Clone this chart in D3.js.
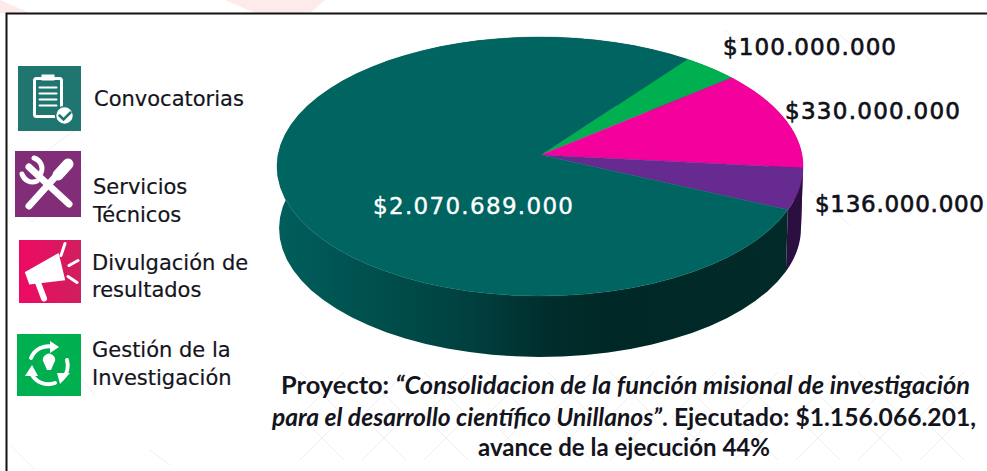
<!DOCTYPE html>
<html><head><meta charset="utf-8">
<script src="https://cdn.jsdelivr.net/npm/d3@7"></script>
<style>html,body{margin:0;padding:0;background:#fff}svg{display:block}text{font-family:"DejaVu Sans",sans-serif;fill:#14141c}</style>
</head><body><div id="chart"></div>
<script>
const categories = ["Gestión de la Investigación","Divulgación de resultados","Servicios Técnicos","Convocatorias"];
const values = [100000000,330000000,136000000,2070689000];
const valueLabels = ["$100.000.000","$330.000.000","$136.000.000","$2.070.689.000"];
const topColors = ["#00b050","#f4009c","#662a91","#006461"];
const sideColors = ["#005a2c","#7a004e","#2a0f40","url(#sideGrad)"];

const W=987,H=471;
const svg=d3.select("#chart").append("svg").attr("width",W).attr("height",H);
const defs=svg.append("defs");
const g=defs.append("linearGradient").attr("id","sideGrad").attr("gradientUnits","userSpaceOnUse")
  .attr("x1",278).attr("x2",803).attr("y1",0).attr("y2",0);
[[0,"#005e5b"],[.2,"#004e4c"],[.38,"#003f3e"],[.5,"#002f2e"],[.62,"#002826"],[1,"#012a28"]]
  .forEach(s=>g.append("stop").attr("offset",s[0]).attr("stop-color",s[1]));
const mg=defs.append("linearGradient").attr("id","magGrad");
mg.append("stop").attr("offset",0).attr("stop-color","#ee0a62");
mg.append("stop").attr("offset",1).attr("stop-color","#cf1f5f");

// faint watermark behind everything
const wm=svg.append("g");
[[[0,0],[30,13],[0,13]],[[225,0],[325,0],[310,13],[255,13]]].forEach(p=>
  wm.append("polygon").attr("points",p.join(" ")).attr("fill","#fdeaea"));
const lat=wm.append("g").attr("stroke","#efefef").attr("stroke-width",1).attr("fill","none");
d3.range(300,960,62).forEach(x=>{
  lat.append("path").attr("d",`M${x},372 L${x+44},416 L${x},460`);
  lat.append("path").attr("d",`M${x+44},372 L${x},416 L${x+44},460`);
});
[[20,170,75,130],[15,205,32,222],[85,165,32,222],[40,330,95,395],[10,445,35,470],[150,450,170,465],[725,30,760,60],[840,35,870,60],[905,125,935,95],[810,190,850,225]]
  .forEach(l=>lat.append("line").attr("x1",l[0]).attr("y1",l[1]).attr("x2",l[2]).attr("y2",l[3]));

// frame
svg.append("path").attr("d",`M6.5,${H} V13.5 H${W}`).attr("fill","none").attr("stroke","#111").attr("stroke-width",2);

// perspective pie
const cx=540,R=262,apexY=155,Hy=128.5,k=0.0888,depth=63,bottomScale=.992;
const project=(a,y0,s)=>{
  const u=Math.sin(a),v=Math.cos(a),d=1+k*v;
  return [cx+R*s*u/d,y0-Hy*s*v/d];
};
const startA=37*Math.PI/180;
const pie=d3.pie().sort(null).startAngle(startA).endAngle(startA+2*Math.PI);
const arcs=pie(values);
const line=d3.line();
const samples=(a0,a1)=>d3.range(0,61).map(i=>a0+(a1-a0)*i/60);

const chart=svg.append("g");
arcs.forEach((d,i)=>{
  const as=samples(d.startAngle,d.endAngle);
  const pts=as.map(a=>project(a,apexY,1)).concat(as.slice().reverse().map(a=>project(a,apexY+depth-1,bottomScale)));
  chart.append("path").attr("d",line(pts)+"Z").attr("fill",sideColors[i]);
});
arcs.forEach((d,i)=>{
  const pts=[[cx+1,apexY]].concat(samples(d.startAngle,d.endAngle).map(a=>project(a,apexY,1)));
  chart.append("path").attr("d",line(pts)+"Z").attr("fill",topColors[i]).attr("stroke",topColors[i]).attr("stroke-width",.4);
});

// value labels
const labelAt=[[723,55],[785,119],[815,212],[373,214]];
const labelLen=[173,175,169,200];
valueLabels.forEach((t,i)=>{
  svg.append("text").attr("x",labelAt[i][0]).attr("y",labelAt[i][1]).text(t)
    .attr("font-size",23).attr("textLength",labelLen[i]).attr("lengthAdjust","spacing")
    .style("fill",i===3?"#fff":"#101018").style("stroke",i===3?"#fff":"#101018").style("stroke-width",i===3?.4:.65);
});

// legend
const legendRows=[
 {box:[18,66,63,65],c:"#1f7670",icon:"clip",text:["Convocatorias"],tx:94,ty:[106]},
 {box:[15,151,66,66],c:"#812d78",icon:"tools",text:["Servicios","Técnicos"],tx:93,ty:[194,222]},
 {box:[19,240,62,63],c:"url(#magGrad)",icon:"mega",text:["Divulgación de","resultados"],tx:92,ty:[270,297]},
 {box:[17,334,64,62],c:"#00b050",icon:"cycle",text:["Gestión de la","Investigación"],tx:92,ty:[357,385]}
];
const leg=svg.append("g");
legendRows.forEach(r=>{
  const [x,y,w,h]=r.box;
  leg.append("rect").attr("x",x).attr("y",y).attr("width",w).attr("height",h).attr("fill",r.c);
  const ic=leg.append("g").attr("transform",`translate(${x+w/2},${y+h/2})`).attr("fill","none").attr("stroke","#fff").attr("stroke-linecap","round");
  if(r.icon==="clip"){
    ic.append("rect").attr("x",-15).attr("y",-20).attr("width",27).attr("height",38).attr("rx",2).attr("stroke-width",3);
    ic.append("rect").attr("x",-8).attr("y",-24).attr("width",13).attr("height",6).attr("fill","#fff").attr("stroke","none");
    [-11,-5,1,7].forEach(d=>ic.append("path").attr("d",`M-10,${d}h17`).attr("stroke-width",2));
    ic.append("circle").attr("cx",15).attr("cy",17).attr("r",9).attr("fill","#fff").attr("stroke","#1f7670").attr("stroke-width",1.5);
    ic.append("path").attr("d","M10,17l4,4l7,-7").attr("stroke","#1f7670").attr("stroke-width",2.5);
  } else if(r.icon==="tools"){
    ic.append("path").attr("d","M-19,-17 L21,20").attr("stroke-width",7);
    ic.append("path").attr("d","M8,-8 L-19,22").attr("stroke-width",7);
    ic.append("path").attr("d","M-26,-10 a11,11 0 0 0 15,7 M-14,-26 a11,11 0 0 1 7,15").attr("stroke-width",5);
    ic.append("path").attr("d","M10,-9 L20,-20").attr("stroke-width",11);
  } else if(r.icon==="mega"){
    ic.append("path").attr("d","M-24,1 L8,-17 L14,8 L-20,12 Z").attr("fill","#fff").attr("stroke","#fff").attr("stroke-width",2);
    ic.append("path").attr("d","M-12,11 L-6,27").attr("stroke-width",6);
    ic.append("path").attr("d","M11,-16 L15,-28 M19,-6 L28,-11 M18,5 L27,11").attr("stroke-width",3);
  } else {
    ic.append("path").attr("d","M-18,-7 A19,19 0 0 1 5,-18").attr("stroke-width",4);
    ic.append("path").attr("d","M1,-24 L10,-18 L1,-12").attr("fill","#fff").attr("stroke","none");
    ic.append("path").attr("d","M18,-5 A19,19 0 0 1 13,14").attr("stroke-width",4);
    ic.append("path").attr("d","M21,8 L11,19 L8,8").attr("fill","#fff").attr("stroke","none");
    ic.append("path").attr("d","M6,18 A19,19 0 0 1 -18,8").attr("stroke-width",4);
    ic.append("path").attr("d","M-24,11 L-17,0 L-11,11").attr("fill","#fff").attr("stroke","none");
    ic.append("path").attr("d","M-5,-2 a6,6 0 1 1 10,0 l-3,7 h-4 Z").attr("fill","#fff").attr("stroke","none");
  }
  r.text.forEach((t,i)=>leg.append("text").attr("x",r.tx).attr("y",r.ty[i]).text(t).attr("font-size",21).style("stroke","#14141c").style("stroke-width",.2));
});

// caption
const captionLines=[
 {y:394,cx:625.5,len:689,parts:[["Proyecto: ",0],["“Consolidacion de la función misional de investigación",1]]},
 {y:426,cx:624,len:704,parts:[["para el desarrollo científico Unillanos”",1],[". Ejecutado: $1.156.066.201,",0]]},
 {y:456,cx:624,len:292,parts:[["avance de la ejecución 44%",0]]}
];
captionLines.forEach(l=>{
  const t=svg.append("text").attr("x",l.cx-l.len/2).attr("y",l.y)
    .attr("font-size",24).attr("font-weight",700).style("font-family","Lato,sans-serif")
    .attr("textLength",l.len).attr("lengthAdjust","spacingAndGlyphs");
  l.parts.forEach(p=>t.append("tspan").text(p[0]).attr("font-style",p[1]?"italic":"normal"));
});
</script></body></html>
